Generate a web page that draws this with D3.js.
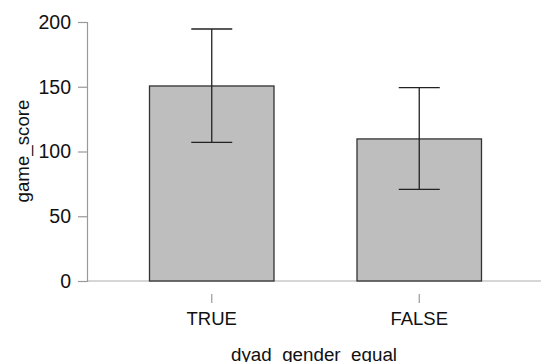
<!DOCTYPE html>
<html><head><meta charset="utf-8">
<script src="https://cdn.jsdelivr.net/npm/d3@7"></script>
<style>body{margin:0;background:#fff}svg{display:block}text{font-family:"Liberation Sans",Arial,sans-serif}</style>
</head><body><div id="c"></div>
<script>
const categories = ["TRUE", "FALSE"];
const means = [150.6, 109.7];
const lower = [107.1, 70.8];
const upper = [194.6, 149.3];
const yTicks = [0, 50, 100, 150, 200];

const W = 541, H = 362;
const svg = d3.select("#c").append("svg").attr("width", W).attr("height", H);
const x = d3.scaleBand().domain(categories).range([108, 523]).paddingInner(0.4).paddingOuter(0.2);
const y = d3.scaleLinear().domain([0, 200]).range([281, 22]);
const x0 = 87;

// x axis baseline
svg.append("line").attr("x1", x0).attr("x2", 541).attr("y1", y(0)).attr("y2", y(0))
  .attr("stroke", "#c8c8c8").attr("stroke-width", 1.3);

// y axis
const ya = svg.append("g").attr("transform", `translate(${x0},0)`)
  .call(d3.axisLeft(y).tickValues(yTicks).tickSize(9).tickPadding(7));
ya.select(".domain").attr("stroke", "#999").attr("stroke-width", 1.2);
ya.selectAll(".tick line").attr("stroke", "#999").attr("stroke-width", 1.2);
ya.selectAll(".tick text").attr("font-size", 19.5).attr("fill", "#111")
  .attr("font-family", "'Liberation Sans',Arial,sans-serif");

// bars
const data = categories.map((c, i) => ({c, m: means[i], lo: lower[i], hi: upper[i]}));
svg.selectAll("rect.bar").data(data).join("rect").attr("class", "bar")
  .attr("x", d => x(d.c)).attr("width", x.bandwidth())
  .attr("y", d => y(d.m)).attr("height", d => y(0) - y(d.m))
  .attr("fill", "#bebebe").attr("stroke", "#333").attr("stroke-width", 1.3);

// error bars
const cap = 20.5;
const eb = svg.selectAll("g.eb").data(data).join("g").attr("class", "eb")
  .attr("transform", d => `translate(${x(d.c) + x.bandwidth() / 2},0)`);
eb.append("line").attr("y1", d => y(d.lo)).attr("y2", d => y(d.hi)).attr("stroke", "#222").attr("stroke-width", 1.3);
eb.append("line").attr("x1", -cap).attr("x2", cap).attr("y1", d => y(d.hi)).attr("y2", d => y(d.hi)).attr("stroke", "#222").attr("stroke-width", 1.3);
eb.append("line").attr("x1", -cap).attr("x2", cap).attr("y1", d => y(d.lo)).attr("y2", d => y(d.lo)).attr("stroke", "#222").attr("stroke-width", 1.3);

// x axis ticks and labels
const xa = svg.append("g").attr("transform", "translate(0,294)")
  .call(d3.axisBottom(x).tickSize(9));
xa.select(".domain").remove();
xa.selectAll(".tick line").attr("stroke", "#999").attr("stroke-width", 1.2);
xa.selectAll(".tick text").attr("font-size", 18.5).attr("fill", "#111")
  .attr("y", 31).attr("dy", 0)
  .attr("font-family", "'Liberation Sans',Arial,sans-serif");

// axis titles
svg.append("text").attr("x", 314).attr("y", 361).attr("text-anchor", "middle")
  .attr("font-size", 18.8).attr("fill", "#111").text("dyad_gender_equal");
svg.append("text").attr("transform", "translate(29,151) rotate(-90)").attr("text-anchor", "middle")
  .attr("font-size", 18.7).attr("fill", "#111").text("game_score");
</script></body></html>
